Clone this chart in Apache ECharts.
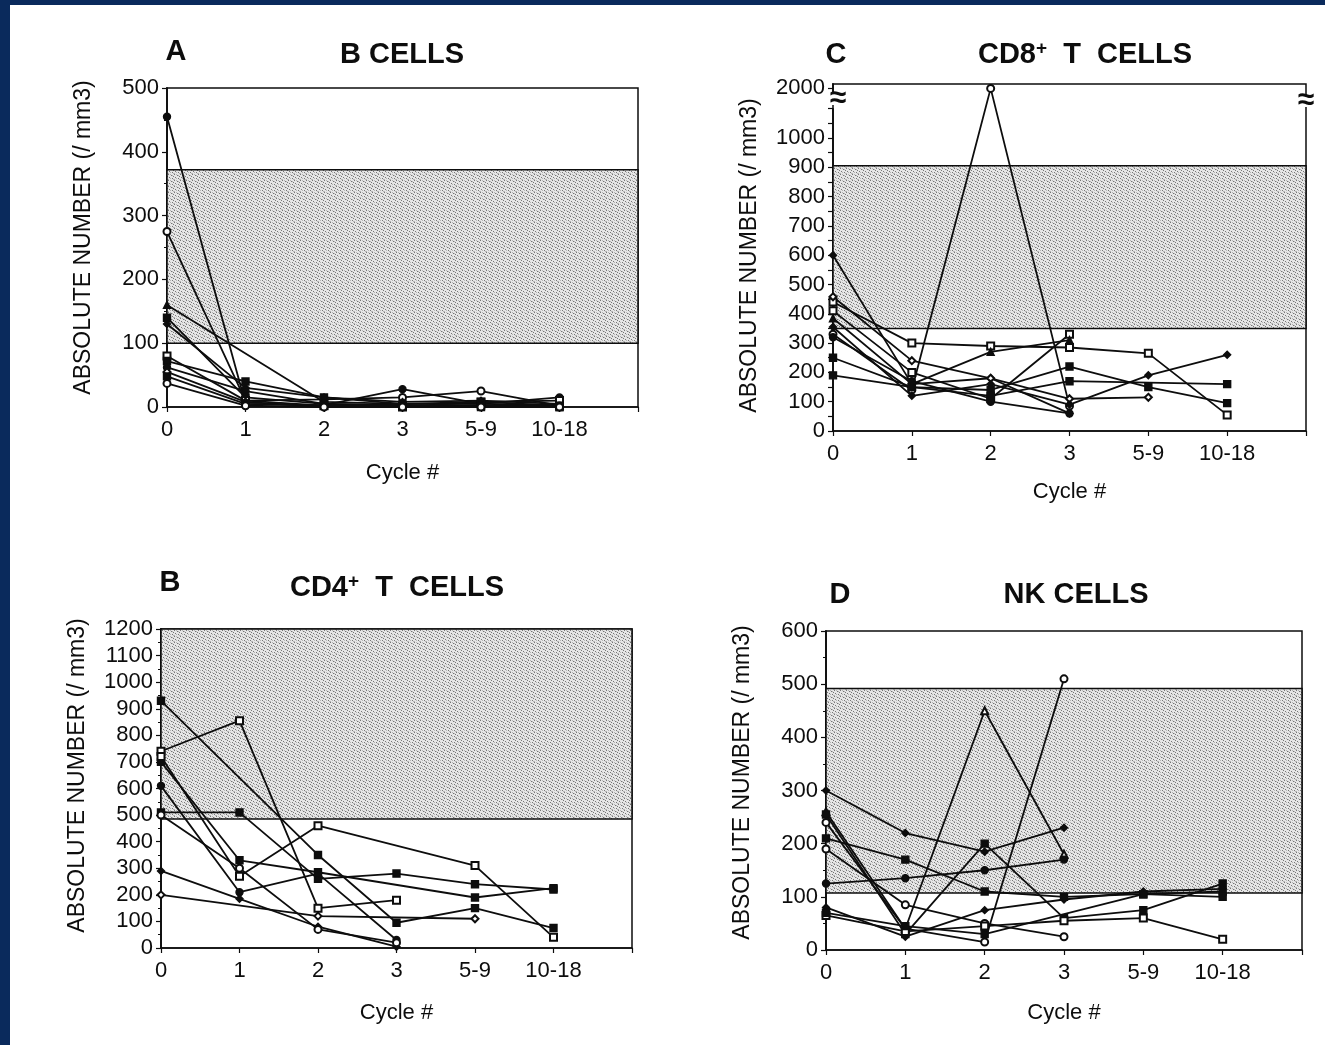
<!DOCTYPE html>
<html>
<head>
<meta charset="utf-8">
<script src="https://cdn.jsdelivr.net/npm/echarts@6/dist/echarts.min.js"></script>
<style>
html, body { margin: 0; padding: 0; background: #fff; }
#chart { width: 1325px; height: 1045px; }
</style>
</head>
<body>
<div id="chart"></div>
<script>
// 横轴: 化疗周期
var cycles = ['0', '1', '2', '3', '5-9', '10-18', ''];

// A  B CELLS  (每行一个病人, null = 无数据)
var bCells = [
    [455, 5, 3, 28, 5, 15],
    [275, 10, 12, 15, 25, 2],
    [160, null, 8, 5, 5, 3],
    [140, 15, 5, 3, 2, 0],
    [130, 30, 15, 8, 10, 5],
    [80, 10, 2, 0, 8, 10],
    [72, 40, 15, 5, 8, 2],
    [62, 25, 5, 2, 3, 2],
    [55, 8, 0, 0, 2, 0],
    [48, 5, 2, 3, 0, 0],
    [37, 2, 0, 0, 0, 0]
];
var bCellsBand = [100, 372];
var bCellsMarks = ['circle', 'emptyCircle', 'triangle', 'rect', 'diamond', 'emptyRect',
    'rect', 'circle', 'emptyDiamond', 'rect', 'emptyCircle'];

// B  CD4+ T CELLS
var cd4Cells = [
    [930, null, 350, 95, 150, 75],
    [510, 510, 260, 280, 240, 220],
    [610, 210, 280, 30, null, null],
    [700, 330, 285, null, 190, 225],
    [740, 855, 150, 180, null, null],
    [720, 270, 460, null, 310, 40],
    [200, null, 120, null, 110, null],
    [290, 185, 80, 5, null, null],
    [500, 300, 70, 20, null, null]
];
var cd4Band = [485, 1200];
var cd4Marks = ['rect', 'rect', 'circle', 'rect', 'emptyRect', 'emptyRect',
    'emptyDiamond', 'diamond', 'emptyCircle'];

// C  CD8+ T CELLS
var cd8Cells = [
    [600, 160, 180, 60, null, null],
    [330, 140, 2000, 85, null, null],
    [440, 300, 290, 285, 265, 55],
    [458, 240, 180, 110, 115, null],
    [410, 200, 110, 330, null, null],
    [385, 160, 270, 310, null, null],
    [250, 150, 140, 220, 150, 95],
    [190, 150, 120, 170, null, 160],
    [355, 120, 160, 90, 190, 260],
    [320, 170, 100, 60, null, null]
];
var cd8Band = [350, 905];
var cd8Labels = [0, 100, 200, 300, 400, 500, 600, 700, 800, 900, 1000, 2000];
var cd8Marks = ['diamond', 'emptyCircle', 'emptyRect', 'emptyDiamond', 'emptyRect', 'triangle',
    'rect', 'rect', 'diamond', 'circle'];

// D  NK CELLS
var nkCells = [
    [300, 220, 185, 230, null, null],
    [260, 40, 450, 180, null, null],
    [240, 40, 15, 510, null, null],
    [125, 135, 150, 170, null, null],
    [210, 170, 110, 100, 105, 110],
    [255, 30, 200, 60, 75, 125],
    [190, 85, 50, 25, null, null],
    [80, 25, 75, 95, 110, 115],
    [65, 35, 45, 55, 60, 20],
    [70, 45, 30, null, 105, 100]
];
var nkBand = [107, 492];
var nkMarks = ['diamond', 'emptyTriangle', 'emptyCircle', 'circle', 'rect', 'rect',
    'emptyCircle', 'diamond', 'emptyRect', 'rect'];

var FONT = 'Liberation Sans, Arial, sans-serif';
var INK = '#0d0d0d';

// 网点底纹
function makeDots() {
    var c = document.createElement('canvas');
    c.width = 6;
    c.height = 6;
    var ctx = c.getContext('2d');
    ctx.fillStyle = '#e6e6e6';
    ctx.fillRect(0, 0, 6, 6);
    ctx.fillStyle = '#767676';
    [[0, 0], [3, 1], [1, 3], [4, 4], [5, 2]].forEach(function (d) {
        ctx.fillRect(d[0], d[1], 1, 1);
    });
    ctx.fillStyle = '#b4b4b4';
    [[2, 0], [5, 5], [0, 5], [2, 4], [4, 1]].forEach(function (d) {
        ctx.fillRect(d[0], d[1], 1, 1);
    });
    return c;
}
var dots = { image: makeDots(), repeat: 'repeat' };

var panels = [
    { grid: { left: 167, top: 88, width: 471, height: 319 }, data: bCells, marks: bCellsMarks,
      band: bCellsBand, xGap: 55, nameShift: 20,
      yAxis: { min: 0, max: 500, interval: 100 } },
    { grid: { left: 833, top: 84, width: 473, height: 347 }, data: cd8Cells, marks: cd8Marks,
      band: cd8Band, xGap: 50, nameShift: 4,
      yAxis: {
          min: 0, max: 2015,
          breaks: [{ start: 1100, end: 1990, gap: '5%' }],
          breakArea: { show: true, itemStyle: { color: 'rgba(0,0,0,0)', borderColor: 'rgba(0,0,0,0)' } },
          axisLabel: { customValues: cd8Labels },
          axisTick: { customValues: [0, 50, 100, 150, 200, 250, 300, 350, 400, 450, 500, 550, 600,
              650, 700, 750, 800, 850, 900, 950, 1000, 1050, 1100, 2000] }
      } },
    { grid: { left: 161, top: 629, width: 471, height: 319 }, data: cd4Cells, marks: cd4Marks,
      band: cd4Band, xGap: 54, nameShift: 26,
      yAxis: { min: 0, max: 1200, interval: 100 } },
    { grid: { left: 826, top: 631, width: 476, height: 319 }, data: nkCells, marks: nkMarks,
      band: nkBand, xGap: 52, nameShift: 16,
      yAxis: { min: 0, max: 600, interval: 100 } }
];

var option = {
    animation: false,
    backgroundColor: '#fff',
    grid: [],
    xAxis: [],
    yAxis: [],
    series: [],
    graphic: []
};

panels.forEach(function (p, i) {
    option.grid.push(Object.assign({
        show: true, borderColor: INK, borderWidth: 1.5, backgroundColor: 'transparent',
        outerBoundsMode: 'none'
    }, p.grid));

    option.xAxis.push({
        type: 'category', gridIndex: i, data: cycles, boundaryGap: false,
        axisLine: { lineStyle: { color: INK, width: 1.5 } },
        axisTick: { show: true, length: 5, interval: 0, lineStyle: { color: INK, width: 1.2 } },
        axisLabel: { interval: 0, color: INK, fontSize: 22, fontFamily: FONT, margin: 12 },
        splitLine: { show: false },
        name: 'Cycle #', nameLocation: 'middle', nameGap: p.xGap,
        nameTextStyle: { color: INK, fontSize: 22, fontFamily: FONT, verticalAlign: 'top' }
    });

    var y = Object.assign({
        type: 'value', gridIndex: i,
        axisLine: { show: true, lineStyle: { color: INK, width: 1.8 } },
        splitLine: { show: false },
        name: 'ABSOLUTE NUMBER (/ mm3)', nameLocation: 'middle', nameGap: 72,
        nameTextStyle: { color: INK, fontSize: 23, fontFamily: FONT, padding: [0, 0, 0, p.nameShift] }
    }, p.yAxis);
    y.axisLabel = Object.assign({
        color: INK, fontSize: 22, fontFamily: FONT, margin: 8,
        formatter: function (v) { return String(v); }
    }, p.yAxis.axisLabel || {});
    y.axisTick = Object.assign({ show: true, length: 5, lineStyle: { color: INK, width: 1.2 } }, p.yAxis.axisTick || {});
    if (!p.yAxis.breaks) {
        y.minorTick = { show: true, splitNumber: 2, length: 3, lineStyle: { color: INK, width: 1 } };
    }
    option.yAxis.push(y);

    p.data.forEach(function (row, j) {
        var s = {
            type: 'line', xAxisIndex: i, yAxisIndex: i, data: row,
            symbol: p.marks[j], symbolSize: 7, showAllSymbol: true,
            connectNulls: true,
            lineStyle: { color: INK, width: 1.8 },
            itemStyle: { color: INK, borderColor: INK, borderWidth: 1.4 },
            z: 3
        };
        if (j === 0) {
            s.markArea = {
                silent: true,
                itemStyle: { color: dots, borderColor: INK, borderWidth: 1.5 },
                data: [[{ yAxis: p.band[0] }, { yAxis: p.band[1] }]]
            };
        }
        option.series.push(s);
    });
});

// 标题
function label(x, y, text, rich) {
    return {
        type: 'text', x: x, y: y, z: 10,
        style: {
            text: text, fill: INK, font: 'bold 29px ' + FONT,
            align: 'center', verticalAlign: 'middle',
            textAlign: 'center', textVerticalAlign: 'middle', rich: rich
        }
    };
}
var sup = {
    t: { fontSize: 29, fontWeight: 'bold', fontFamily: FONT, fill: INK, color: INK },
    s: { fontSize: 19, fontWeight: 'bold', fontFamily: FONT, fill: INK, color: INK, verticalAlign: 'top', padding: [0, 0, 12, 0] }
};
function breakMark(x, y) {
    return [
        { type: 'rect', shape: { x: x - 6, y: y - 6, width: 12, height: 12 }, style: { fill: '#fff' }, z: 9 },
        { type: 'text', x: x, y: y, z: 10, style: { text: '≈', font: 'bold 30px ' + FONT, fill: INK, align: 'center', verticalAlign: 'middle', textAlign: 'center', textVerticalAlign: 'middle' } }
    ];
}
option.graphic = [
    // 深蓝边框
    { type: 'rect', shape: { x: 0, y: 0, width: 1325, height: 5 }, style: { fill: '#0a2a5c' }, z: 20 },
    { type: 'rect', shape: { x: 0, y: 0, width: 10, height: 1045 }, style: { fill: '#0a2a5c' }, z: 20 },
    label(176, 52, 'A'),
    label(402, 55, 'B CELLS'),
    label(836, 55, 'C'),
    label(1085, 55, '{t|CD8}{s|+}{t|  T  CELLS}', sup),
    label(170, 583, 'B'),
    label(397, 588, '{t|CD4}{s|+}{t|  T  CELLS}', sup),
    label(840, 595, 'D'),
    label(1076, 595, 'NK CELLS')
].concat(breakMark(838, 99), breakMark(1306, 101));

var myChart = echarts.init(document.getElementById('chart'));
myChart.setOption(option);
</script>
</body>
</html>
